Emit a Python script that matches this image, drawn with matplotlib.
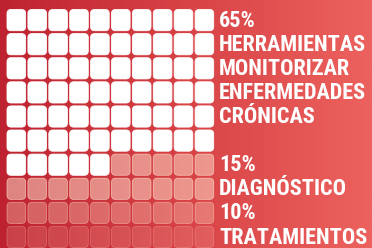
import numpy as np
import matplotlib
matplotlib.use("Agg")
import matplotlib.pyplot as plt
from matplotlib.patches import FancyBboxPatch
from matplotlib.colors import LinearSegmentedColormap, to_rgb
import logging
logging.getLogger("matplotlib.font_manager").setLevel(logging.ERROR)

# Data
categories = ["HERRAMIENTAS\nMONITORIZAR\nENFERMEDADES\nCRÓNICAS", "DIAGNÓSTICO", "TRATAMIENTOS", "OTROS"]
values = [65, 15, 10, 10]
pct_labels = ["65%", "15%", "10%", None]
colors = ["#FFFFFF", "#FFE6D2", "#FFDCC8", "#FFD2C0"]
alphas = [1.0, 0.5, 0.33, 0.17]

W, H = 372, 248
fig = plt.figure(figsize=(W / 100, H / 100), dpi=100)
ax = fig.add_axes([0, 0, 1, 1])
ax.set_xlim(0, W)
ax.set_ylim(H, 0)
ax.axis("off")

# gradient background
cmap = LinearSegmentedColormap.from_list("bg", ["#BE2230", "#D84346", "#EC625E"])
grad = np.linspace(0, 1, 256)[None, :].repeat(2, axis=0)
ax.imshow(grad, extent=[0, W, H, 0], aspect="auto", cmap=cmap, zorder=0)

ncols, nrows = 10, 10
x0, y0 = 7.0, 9.5
px, py = 20.9, 24.1
sw, sh = 18.6, 21.2
r = 4.0

cells = []
for cat_i, v in enumerate(values):
    cells += [cat_i] * v
for idx, cat_i in enumerate(cells[: ncols * nrows]):
    row, col = divmod(idx, ncols)
    x = x0 + col * px
    y = y0 + row * py
    rgb = to_rgb(colors[cat_i])
    p = FancyBboxPatch((x + r, y + r), sw - 2 * r, sh - 2 * r,
                       boxstyle=f"round,pad={r}", linewidth=0.6,
                       facecolor=(*rgb, alphas[cat_i]),
                       edgecolor=(*rgb, min(1, alphas[cat_i] + 0.12)), zorder=2)
    ax.add_patch(p)

# labels: each line aligned to a row
lines = []
lines += [pct_labels[0]] + categories[0].split("\n")  # rows 0-4
lines += [None]                                      # row 5
lines += [pct_labels[1], categories[1], pct_labels[2], categories[2]]
tx = 219
font = dict(family=["Roboto Condensed", "Barlow Semi Condensed", "PT Sans Narrow",
                    "Archivo Narrow", "DejaVu Sans"],
            weight="bold", fontsize=16, color="white")
for row, t in enumerate(lines):
    if t is None:
        continue
    yc = y0 + row * py + sh / 2 + 0.5
    ax.text(tx, yc, t, ha="left", va="center", zorder=3, **font)

fig.savefig("out.png", dpi=100)
